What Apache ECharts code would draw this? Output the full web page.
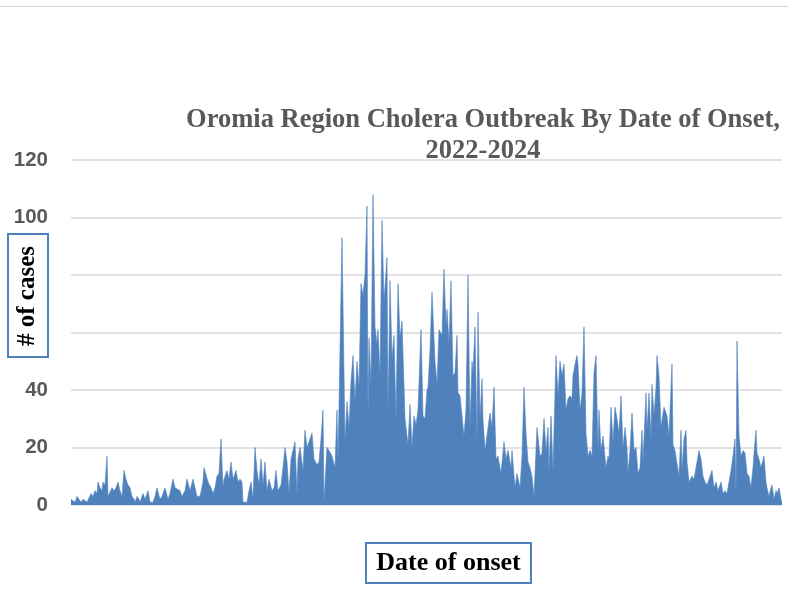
<!DOCTYPE html>
<html>
<head>
<meta charset="utf-8">
<title>Oromia Cholera</title>
<script src="https://cdn.jsdelivr.net/npm/echarts@6/dist/echarts.min.js"></script>
<style>
  html, body { margin: 0; padding: 0; background: #fff; }
  #main { width: 788px; height: 596px; }
</style>
</head>
<body>
<div id="main"></div>
<script type="text/javascript">
// day index from start of the series and daily case counts
var days = [
  0,2,4,6,8,10,12,14,16,18, 20,22,24,26,27,29,31,32,34,36, 37,39,41,43,45,47,49,51,53,55,
  57,59,61,63,64,66,68,69,72,74, 77,79,82,84,86,89,91,94,97,99, 102,104,106,109,111,114,116,119,122,124, 126,
  129,132,133,135,137,140,142,144,146,148, 150,152,153,156,158,160,162,165,167,169,
  171,172,174,176,178,180,182,184,186,188, 190,192,194,196,198,201,203,205,207,210,
  212,214,216,218,220,222,224,226,227,229, 232,234,236,239,241,243,246,248,250,252, 253,256,258,261,262,264,266,
  267,271,274,276,278,280,282,284,286,288, 290,292,294,296,297,298,300,302,304,306,
  307,309,311,313,316,317,319,321,323,325, 327,329,331,334,337,339,341,343,345,347, 350,352,
  354,356,357,359,361,364,366,368,371,373, 375,376,378,380,382,384,386,387,389,391,
  393,395,397,399,401,402,404,406,407,409, 411,412,414,417,419,421,423,425,427,430,
  433,435,437,440,441,444,446,449,451,453,
  455,457,459,461,463,466,469,471,473,475, 477,478,480,482,485,487,489,491,493,495,
  497,499,501,502,504,506,507,509,511,513, 515,517,519,521,523,525,527,528,530,532,
  535,537,538,540,542,544,546,548,550,552, 554,556,557,559,561,563,565,567,
  569,571,572,575,576,578,580,581,583,585, 586,588,590,592,593,596,598,601,602,604,
  606,608,610,611,613,615,616,618,621,623, 625,628,630,632,634,636,638,641,643,645,
  647,650,652,654,656,658,660,662,664,665, 666,668,670,672,674,676,678,680,682,683,
  685,686,688,690,691,693,695,696,698,700, 701,703,705,706,708,710,711
];
var cases = [
  2,2,1,3,2,1,2,2,1,1, 4,3,5,4,8,6,5,8,7,17, 3,3,6,5,6,8,5,3,12,9,
  7,6,3,2,1,3,2,1,4,2, 5,1,1,3,6,2,3,6,2,4, 9,6,6,5,3,5,9,5,9,6, 3,
  3,8,13,13,8,6,4,6,10,11, 23,6,9,12,9,15,9,12,8,9,
  8,1,1,1,5,8,2,20,12,7, 16,7,15,5,9,5,6,12,5,7,
  13,20,15,4,16,16,22,4,16,20, 12,26,20,23,25,16,14,15,23,33, 1,20,19,17,17,13,33,
  15,93,22,36,27,43,52,36,50,41, 77,73,80,104,30,58,42,108,62,56,
  61,45,99,71,86,31,78,51,59,30, 77,58,64,30,21,35,20,31,28,33, 61,31,
  30,40,41,54,74,50,42,61,59,82, 62,68,56,78,45,46,59,39,38,31,
  24,33,80,27,50,46,62,22,67,30, 44,30,19,27,32,27,41,16,17,11,
  22,16,19,13,19,6,11,6,17,41,
  25,15,13,10,3,27,17,18,30,19, 27,12,31,12,52,38,50,45,49,33,
  37,38,37,45,49,52,49,33,39,62, 25,17,19,17,46,52,19,33,19,24,
  13,17,16,34,22,34,30,25,38,20, 27,20,11,19,32,19,20,11,
  13,26,15,39,26,39,23,42,31,41, 52,45,27,32,34,31,24,49,21,19,
  19,10,26,12,23,26,15,8,10,9, 13,19,16,10,8,7,9,12,6,8,
  5,8,4,5,4,8,12,17,23,3, 57,24,17,19,18,11,10,6,13,18,
  26,18,16,13,13,17,8,6,3,6, 7,2,5,4,6,2,1
];
var yTicks = [0, 20, 40, 60, 80, 100, 120];
var titleText = 'Oromia Region Cholera Outbreak By Date of Onset,\n2022-2024';
var yName = '# of cases';
var xName = 'Date of onset';

var seriesData = days.map(function (d, i) { return [d, cases[i]]; });

var myChart = echarts.init(document.getElementById('main'));

var option = {
  animation: false,
  grid: { left: 71, right: 6, top: 160, bottom: 91 },
  xAxis: {
    type: 'value',
    min: 0,
    max: days[days.length - 1],
    show: false
  },
  yAxis: {
    type: 'value',
    min: yTicks[0],
    max: yTicks[yTicks.length - 1],
    interval: 20,
    axisLine: { show: false },
    axisTick: { show: false },
    axisLabel: {
      margin: 23,
      color: '#595959',
      fontSize: 20.5,
      fontWeight: 'bold',
      fontFamily: '"Liberation Sans", Arial, sans-serif'
    },
    splitLine: { lineStyle: { color: '#d9d9d9', width: 1.5 } }
  },
  series: [{
    type: 'line',
    data: seriesData,
    symbol: 'none',
    sampling: 'none',
    lineStyle: { color: '#4f81bd', width: 0.6 },
    areaStyle: { color: '#4f81bd', opacity: 1 },
    z: 3
  }],
  graphic: [
    // thin rule at the very top of the page
    { type: 'line', shape: { x1: 0, y1: 6.5, x2: 788, y2: 6.5 }, style: { stroke: '#d4d4d4', lineWidth: 1 } },
    {
      type: 'text', x: 483, y: 105,
      style: {
        text: titleText, textAlign: 'center',
        font: 'bold 26.5px "Liberation Serif"', fill: '#595959', lineHeight: 31
      }
    },
    // y-axis title box (covers the 60 / 80 labels like the original)
    {
      type: 'rect', z: 10,
      shape: { x: 8, y: 234, width: 40, height: 123 },
      style: { fill: '#fff', stroke: '#4f81bd', lineWidth: 2 }
    },
    {
      type: 'text', z: 11, x: 28, y: 296, rotation: Math.PI / 2,
      style: {
        text: yName, textAlign: 'center', textVerticalAlign: 'middle',
        font: 'bold 25px "Liberation Serif"', fill: '#000'
      }
    },
    // x-axis title box
    {
      type: 'rect', z: 10,
      shape: { x: 366, y: 543, width: 165, height: 40 },
      style: { fill: '#fff', stroke: '#4f81bd', lineWidth: 2 }
    },
    {
      type: 'text', z: 11, x: 448.5, y: 563,
      style: {
        text: xName, textAlign: 'center', textVerticalAlign: 'middle',
        font: 'bold 26px "Liberation Serif"', fill: '#000'
      }
    }
  ]
};

myChart.setOption(option);
</script>
</body>
</html>
